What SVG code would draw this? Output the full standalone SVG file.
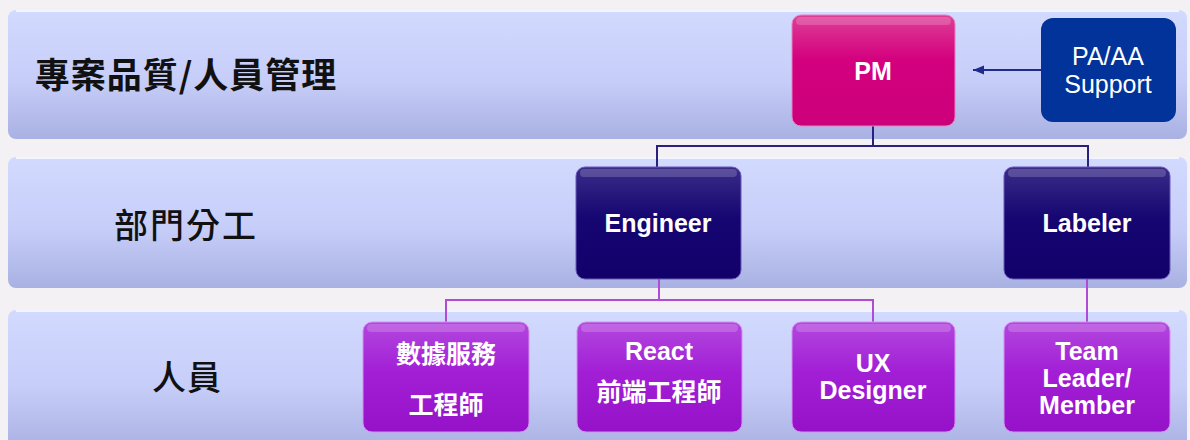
<svg xmlns="http://www.w3.org/2000/svg" width="1190" height="440" viewBox="0 0 1190 440">
<defs>
<linearGradient id="band" x1="0" y1="0" x2="0" y2="1">
<stop offset="0" stop-color="#d3daff"/>
<stop offset="0.55" stop-color="#c6cdf8"/>
<stop offset="1" stop-color="#a9b1e3"/>
</linearGradient>
<linearGradient id="pink" x1="0" y1="0" x2="0" y2="1">
<stop offset="0" stop-color="#de3f96"/>
<stop offset="0.4" stop-color="#d4007f"/>
<stop offset="1" stop-color="#cc007a"/>
</linearGradient>
<linearGradient id="indigo" x1="0" y1="0" x2="0" y2="1">
<stop offset="0" stop-color="#3a2c88"/>
<stop offset="0.45" stop-color="#160672"/>
<stop offset="1" stop-color="#12006a"/>
</linearGradient>
<linearGradient id="purple" x1="0" y1="0" x2="0" y2="1">
<stop offset="0" stop-color="#b348de"/>
<stop offset="0.45" stop-color="#a21fd6"/>
<stop offset="1" stop-color="#9512c8"/>
</linearGradient>
<marker id="arrow" markerWidth="12" markerHeight="12" refX="11" refY="6" orient="auto" markerUnits="userSpaceOnUse">
<path d="M0,1.5 L11,6 L0,10.5 Z" fill="#1f2a8c"/>
</marker>
<style>
.band{fill:url(#band);}
.bandhl{fill:none;stroke:#ffffff;stroke-opacity:0.7;stroke-width:2;}
.lbl{font-family:"Noto Sans CJK TC","Noto Sans CJK SC",sans-serif;fill:#111;text-anchor:middle;dominant-baseline:central;}
.nt{font-family:"Liberation Sans","Noto Sans CJK TC",sans-serif;font-weight:bold;font-size:25px;fill:#fff;text-anchor:middle;dominant-baseline:central;}
.ntc{font-family:"Noto Sans CJK TC","Noto Sans CJK SC",sans-serif;font-weight:bold;font-size:25px;fill:#fff;text-anchor:middle;dominant-baseline:central;}
.gloss{fill:#ffffff;fill-opacity:0.18;}
.topline{stroke:#2a2080;stroke-width:2;fill:none;}
.botline{stroke:#b24ad8;stroke-width:2;fill:none;}
</style>
</defs>
<rect width="1190" height="440" fill="#f3f1f3"/>
<g id="band-1">
<rect class="band" x="8" y="10" width="1179" height="129" rx="8"/>
<path class="bandhl" d="M16,11 H1179"/>
<text class="lbl" x="186" y="72" font-size="35" font-weight="bold" letter-spacing="1">專案品質/人員管理</text>
</g>
<g id="band-2">
<rect class="band" x="8" y="157" width="1179" height="131" rx="8"/>
<path class="bandhl" d="M16,158 H1179"/>
<text class="lbl" x="186" y="223" font-size="34" font-weight="500" letter-spacing="2">部門分工</text>
</g>
<g id="band-3">
<rect class="band" x="8" y="310" width="1179" height="140" rx="8"/>
<path class="bandhl" d="M16,311 H1179"/>
<text class="lbl" x="187" y="375" font-size="34" font-weight="500" letter-spacing="1">人員</text>
</g>
<g id="connectors">
<path class="topline" d="M873,126 V146 M657,146 H1088 M657,145 V167 M1088,145 V167"/>
<path class="botline" d="M659,279 V300 M446,300 H873 M446,299 V322 M873,299 V322 M1087,279 V322"/>
<path d="M1041,70 H973" stroke="#1f2a8c" stroke-width="2" fill="none" marker-end="url(#arrow)"/>
</g>
<g id="pm">
<rect x="792" y="15" width="163" height="111" rx="9" style="fill:url(#pink)" stroke="#e880c0" stroke-width="1"/>
<rect class="gloss" x="796" y="17" width="155" height="8" rx="4"/>
<text class="nt" x="873" y="71">PM</text>
</g>
<g id="pa-aa-support">
<rect x="1041" y="18" width="135" height="104" rx="12" fill="#01339a"/>
<text class="nt" style="font-weight:normal" x="1108" y="56">PA/AA</text>
<text class="nt" style="font-weight:normal" x="1108" y="84">Support</text>
</g>
<g id="engineer">
<rect x="576" y="167" width="165" height="112" rx="9" fill="url(#indigo)" stroke="#6a5ab8" stroke-width="1"/>
<rect class="gloss" x="580" y="169" width="157" height="8" rx="4"/>
<text class="nt" x="658" y="223">Engineer</text>
</g>
<g id="labeler">
<rect x="1004" y="167" width="166" height="112" rx="9" fill="url(#indigo)" stroke="#6a5ab8" stroke-width="1"/>
<rect class="gloss" x="1008" y="169" width="158" height="8" rx="4"/>
<text class="nt" x="1087" y="223">Labeler</text>
</g>
<g id="data-service-engineer">
<rect x="363" y="322" width="166" height="110" rx="9" fill="url(#purple)" stroke="#d590f0" stroke-width="1"/>
<rect class="gloss" x="367" y="324" width="158" height="8" rx="4"/>
<text class="ntc" x="446" y="352">數據服務</text>
<text class="ntc" x="446" y="403">工程師</text>
</g>
<g id="react-frontend-engineer">
<rect x="577" y="322" width="165" height="110" rx="9" fill="url(#purple)" stroke="#d590f0" stroke-width="1"/>
<rect class="gloss" x="581" y="324" width="157" height="8" rx="4"/>
<text class="nt" x="659" y="351">React</text>
<text class="ntc" x="659" y="390">前端工程師</text>
</g>
<g id="ux-designer">
<rect x="792" y="322" width="163" height="110" rx="9" fill="url(#purple)" stroke="#d590f0" stroke-width="1"/>
<rect class="gloss" x="796" y="324" width="155" height="8" rx="4"/>
<text class="nt" x="873" y="363">UX</text>
<text class="nt" x="873" y="390">Designer</text>
</g>
<g id="team-leader-member">
<rect x="1004" y="322" width="166" height="110" rx="9" fill="url(#purple)" stroke="#d590f0" stroke-width="1"/>
<rect class="gloss" x="1008" y="324" width="158" height="8" rx="4"/>
<text class="nt" x="1087" y="351">Team</text>
<text class="nt" x="1087" y="378">Leader/</text>
<text class="nt" x="1087" y="405">Member</text>
</g>
</svg>
